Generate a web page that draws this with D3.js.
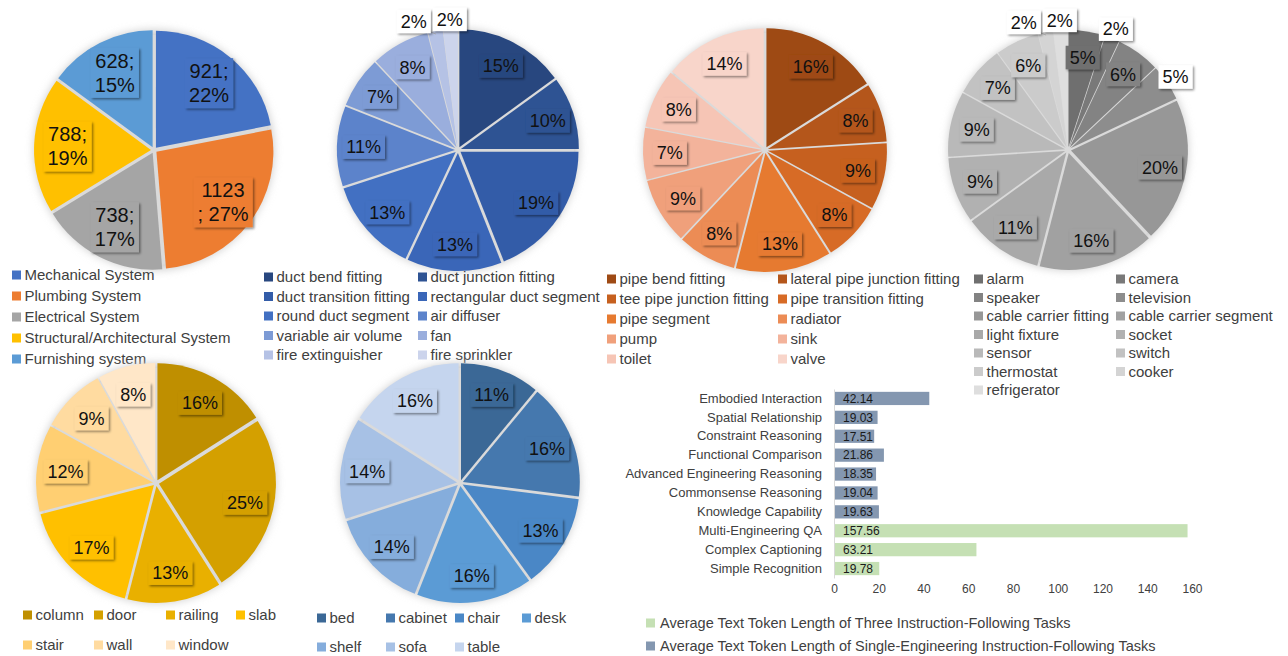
<!DOCTYPE html>
<html>
<head>
<meta charset="utf-8">
<script src="https://cdn.jsdelivr.net/npm/d3@7"></script>
<style>
  body { margin: 0; background: #fff; }
  svg { font-family: "Liberation Sans", Arial, sans-serif; }
</style>
</head>
<body>
<script>
/*********** data ***********/
const systemNames = ["Mechanical System", "Plumbing System", "Electrical System", "Structural/Architectural System", "Furnishing system"];
const systemCounts = [921, 1123, 738, 788, 628];
const systemPercents = [22, 27, 17, 19, 15];
const systemColors = ["#4472c4", "#ed7d31", "#a5a5a5", "#ffc000", "#5b9bd5"];

const ductNames = ["duct bend fitting", "duct junction fitting", "duct transition fitting", "rectangular duct segment", "round duct segment",
  "air diffuser", "variable air volume", "fan", "fire extinguisher", "fire sprinkler"];
const ductShares = [15, 10, 19, 13, 13, 11, 7, 8, 2, 2];
const ductColors = ["#28477f", "#2e5393", "#335ca8", "#3a66b8", "#4270c2", "#5c83cb", "#7d9bd5", "#9aaedd", "#b5c2e5", "#ccd4ec"];

const pipeNames = ["pipe bend fitting", "lateral pipe junction fitting", "tee pipe junction fitting", "pipe transition fitting", "pipe segment",
  "radiator", "pump", "sink", "toilet", "valve"];
const pipeShares = [16, 8, 9, 8, 13, 8, 9, 7, 8, 14];
const pipeColors = ["#9e4a14", "#b4561b", "#c6601f", "#d76b26", "#e67a30", "#ec8c55", "#f0a07b", "#f3b39b", "#f6c5b5", "#f8d5ca"];

const elecNames = ["alarm", "camera", "speaker", "television", "cable carrier fitting", "cable carrier segment", "light fixture",
  "socket", "sensor", "switch", "thermostat", "cooker", "refrigerator"];
const elecShares = [5, 2, 6, 5, 20, 16, 11, 9, 9, 7, 6, 2, 2];
const elecColors = ["#6f6f6f", "#797979", "#838383", "#8d8d8d", "#979797", "#a1a1a1", "#a9a9a9", "#b1b1b1", "#b9b9b9",
  "#c2c2c2", "#cbcbcb", "#d4d4d4", "#dedede"];

const archNames = ["column", "door", "railing", "slab", "stair", "wall", "window"];
const archShares = [16, 25, 13, 17, 12, 9, 8];
const archColors = ["#bf8f00", "#d4a000", "#e9b000", "#ffc000", "#ffcf72", "#ffdba0", "#ffe7c8"];

const furnNames = ["bed", "cabinet", "chair", "desk", "shelf", "sofa", "table"];
const furnShares = [11, 16, 13, 16, 14, 14, 16];
const furnColors = ["#3b6896", "#4578ae", "#4a87c6", "#5b9bd5", "#85addc", "#a7c1e5", "#c5d5ee"];

const barCategories = ["Embodied Interaction", "Spatial Relationship", "Constraint Reasoning", "Functional Comparison",
  "Advanced Engineering Reasoning", "Commonsense Reasoning", "Knowledge Capability", "Multi-Engineering QA",
  "Complex Captioning", "Simple Recognition"];
const barValues = [42.14, 19.03, 17.51, 21.86, 18.35, 19.04, 19.63, 157.56, 63.21, 19.78];
const barGroup = ["single", "single", "single", "single", "single", "single", "single", "three", "three", "three"];
const barTicks = [0, 20, 40, 60, 80, 100, 120, 140, 160];
const barLegend = [
  ["three", "Average Text Token Length of Three Instruction-Following Tasks"],
  ["single", "Average Text Token Length of Single-Engineering Instruction-Following Tasks"]
];
const barColors = { single: "#8497b0", three: "#c5e0b4" };

/*********** svg ***********/
const W = 1288, H = 656;
const svg = d3.select("body").append("svg").attr("width", W).attr("height", H);

const defs = svg.append("defs");
defs.append("filter").attr("id", "halo").attr("x", "-20%").attr("y", "-20%").attr("width", "140%").attr("height", "140%")
  .append("feGaussianBlur").attr("stdDeviation", 4);
defs.append("filter").attr("id", "lblShadow").attr("x", "-20%").attr("y", "-20%").attr("width", "150%").attr("height", "160%")
  .append("feDropShadow").attr("dx", 1.5).attr("dy", 1.5).attr("stdDeviation", 1.2)
  .attr("flood-color", "#000").attr("flood-opacity", 0.45);

const EXPLODE = 3;
const pctLabel = (v, p) => [p + "%"];

const pies = [
  { names: systemNames, values: systemCounts, pcts: systemPercents, colors: systemColors, cx: 154, cy: 150, r: 117, k: 0.74, font: 20,
    format: (v, p) => String(v).length > 3 ? [String(v), "; " + p + "%"] : [v + ";", p + "%"],
    outside: [], legend: { xs: [12], y0: 275, rowH: 21 } },
  { names: ductNames, values: ductShares, colors: ductColors, cx: 458, cy: 150, r: 118, k: 0.8, font: 18,
    format: pctLabel, outside: ["fire extinguisher", "fire sprinkler"], legend: { xs: [264, 418], y0: 277, rowH: 19.5 } },
  { names: pipeNames, values: pipeShares, colors: pipeColors, cx: 765, cy: 150, r: 119, k: 0.8, font: 18,
    format: pctLabel, outside: [], legend: { xs: [607, 778], y0: 279, rowH: 20 } },
  { names: elecNames, values: elecShares, colors: elecColors, cx: 1068, cy: 150, r: 117, k: 0.8, font: 18,
    format: pctLabel, outside: ["camera", "television", "cooker", "refrigerator"], legend: { xs: [974, 1116], y0: 279, rowH: 18.5 } },
  { names: archNames, values: archShares, colors: archColors, cx: 156, cy: 483, r: 117, k: 0.78, font: 18,
    format: pctLabel, outside: [], legend: { xs: [23, 94, 166, 236], y0: 615, rowH: 30 } },
  { names: furnNames, values: furnShares, colors: furnColors, cx: 460, cy: 483, r: 117, k: 0.8, font: 18,
    format: pctLabel, outside: [], legend: { xs: [317, 386, 455, 522], y0: 618, rowH: 29 } }
];

function drawPie(cfg) {
  const g = svg.append("g").attr("transform", `translate(${cfg.cx},${cfg.cy})`);
  const total = d3.sum(cfg.values);
  const arcs = d3.pie().sort(null)(cfg.values);
  const arc = d3.arc().innerRadius(0).outerRadius(cfg.r);

  g.append("circle").attr("r", cfg.r + 3).attr("fill", "#cdcdcd").attr("filter", "url(#halo)");
  g.append("circle").attr("r", cfg.r - 2).attr("fill", "#dadada");

  g.selectAll("path.slice").data(arcs).join("path")
    .attr("class", "slice")
    .attr("d", arc)
    .attr("fill", (d, i) => cfg.colors[i])
    .attr("transform", d => {
      const m = (d.startAngle + d.endAngle) / 2;
      return `translate(${Math.sin(m) * EXPLODE},${-Math.cos(m) * EXPLODE})`;
    });

  // labels
  const labels = arcs.map((d, i) => {
    const m = (d.startAngle + d.endAngle) / 2;
    const outside = cfg.outside.includes(cfg.names[i]);
    const rr = outside ? cfg.r + 13 : cfg.r * cfg.k;
    const p = cfg.pcts ? cfg.pcts[i] : Math.round(cfg.values[i] / total * 100);
    return { i, m, outside, x: Math.sin(m) * rr, y: -Math.cos(m) * rr, x0: Math.sin(m) * rr,
      lines: cfg.format(cfg.values[i], p) };
  });

  const lg = g.append("g");
  labels.forEach(l => {
    const grp = lg.append("g");
    const txt = grp.append("text")
      .attr("font-size", cfg.font).attr("fill", "#111").attr("text-anchor", "middle");
    const lh = cfg.font * 1.2;
    l.lines.forEach((s, j) => {
      txt.append("tspan").attr("x", 0).attr("y", (j - (l.lines.length - 1) / 2) * lh).attr("dy", "0.35em").text(s);
    });
    const bb = txt.node().getBBox();
    l.w = bb.width + 8;
    l.h = lh * l.lines.length + 2;
    l.grp = grp;
    l.txt = txt;
  });

  // push overlapping outside labels apart
  const outs = labels.filter(l => l.outside);
  for (let a = 0; a < outs.length - 1; a++) {
    const A = outs[a], B = outs[a + 1];
    const minDx = (A.w + B.w) / 2 + 2;
    if (Math.abs(A.x - B.x) < minDx && Math.abs(A.y - B.y) < (A.h + B.h) / 2) {
      if (A.m > Math.PI) A.x = B.x - minDx;
      else B.x = A.x + minDx;
    }
  }

  labels.forEach(l => {
    if (l.outside && Math.abs(l.x - l.x0) > 1) {
      lg.insert("line", ":first-child")
        .attr("x1", Math.sin(l.m) * cfg.r).attr("y1", -Math.cos(l.m) * cfg.r)
        .attr("x2", l.x + l.w / 2 - 2).attr("y2", l.y + l.h / 2 - 2)
        .attr("stroke", "#a6a6a6").attr("stroke-width", 0.8);
    }
    l.grp.attr("transform", `translate(${l.x},${l.y})`);
    l.grp.insert("rect", "text")
      .attr("x", -l.w / 2).attr("y", -l.h / 2).attr("width", l.w).attr("height", l.h)
      .attr("fill", l.outside ? "#fff" : cfg.colors[l.i])
      .attr("filter", "url(#lblShadow)");
  });

  // legend
  const L = cfg.legend;
  const leg = svg.append("g").attr("font-size", 15).attr("fill", "#404040");
  cfg.names.forEach((n, i) => {
    const col = i % L.xs.length, row = Math.floor(i / L.xs.length);
    const x = L.xs[col], y = L.y0 + row * L.rowH;
    leg.append("rect").attr("x", x).attr("y", y - 4.5).attr("width", 9).attr("height", 9).attr("fill", cfg.colors[i]);
    leg.append("text").attr("x", x + 12.5).attr("y", y).attr("dy", "0.35em").text(n);
  });
}

pies.forEach(drawPie);

/*********** bar chart ***********/
const x = d3.scaleLinear().domain([0, 160]).range([834, 1192]);
const y = d3.scaleBand().domain(barCategories).range([389, 578]).paddingInner(0.3).paddingOuter(0.15);

const bars = svg.append("g");
bars.selectAll("rect").data(barCategories).join("rect")
  .attr("x", x(0) + 1)
  .attr("y", d => y(d))
  .attr("width", (d, i) => x(barValues[i]) - x(0))
  .attr("height", y.bandwidth())
  .attr("fill", (d, i) => barColors[barGroup[i]]);

bars.selectAll("text").data(barCategories).join("text")
  .attr("x", x(0) + 9)
  .attr("y", d => y(d) + y.bandwidth() / 2)
  .attr("dy", "0.36em")
  .attr("font-size", 12).attr("fill", "#1a1a1a")
  .text((d, i) => barValues[i].toFixed(2));

const yAxis = svg.append("g").attr("transform", `translate(${x(0)},0)`)
  .call(d3.axisLeft(y).tickSize(0).tickPadding(12));
yAxis.select(".domain").attr("stroke", "#d9d9d9");
yAxis.selectAll("text").attr("font-size", 13).attr("fill", "#404040").attr("font-family", "Liberation Sans, Arial, sans-serif");

const xAxis = svg.append("g").attr("transform", "translate(0,580)")
  .call(d3.axisBottom(x).tickValues(barTicks).tickSize(0).tickPadding(4));
xAxis.select(".domain").remove();
xAxis.selectAll("text").attr("font-size", 12).attr("fill", "#404040").attr("font-family", "Liberation Sans, Arial, sans-serif");

const bl = svg.append("g").attr("font-size", 14.5).attr("fill", "#404040");
barLegend.forEach(([k, t], i) => {
  const yy = 623 + i * 23;
  bl.append("rect").attr("x", 646).attr("y", yy - 4.5).attr("width", 9).attr("height", 9).attr("fill", barColors[k]);
  bl.append("text").attr("x", 660).attr("y", yy).attr("dy", "0.35em").text(t);
});
</script>
</body>
</html>
